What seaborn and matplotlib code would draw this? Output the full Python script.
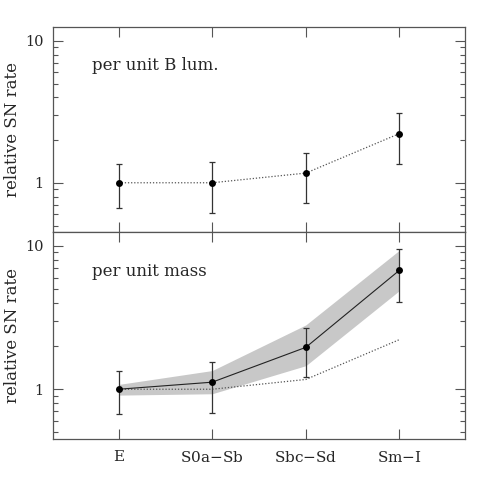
import numpy as np
import pandas as pd
import matplotlib
matplotlib.use("Agg")
import matplotlib.pyplot as plt
import seaborn as sns
from matplotlib.ticker import LogLocator, NullFormatter, FixedLocator

sns.set_theme(style="ticks")
plt.rcParams['font.family'] = ['DejaVu Serif']
plt.rcParams['mathtext.fontset'] = 'dejavuserif'

categories = ["E", "S0a\u2013Sb", "Sbc\u2013Sd", "Sm\u2013I"]
cat_labels = ["E", "S0a$-$Sb", "Sbc$-$Sd", "Sm$-$I"]

# per unit B luminosity
lum_rate = [1.0, 1.0, 1.17, 2.22]
lum_hi = [1.35, 1.39, 1.61, 3.09]
lum_lo = [0.667, 0.61, 0.72, 1.35]

# per unit mass
mass_rate = [1.0, 1.12, 1.96, 6.76]
mass_hi = [1.33, 1.55, 2.69, 9.5]
mass_lo = [0.67, 0.685, 1.21, 4.08]
band_hi = [1.08, 1.35, 2.81, 9.33]
band_lo = [0.91, 0.93, 1.46, 4.88]

xpos = np.arange(len(categories))
df_lum = pd.DataFrame({"x": xpos, "rate": lum_rate})
df_mass = pd.DataFrame({"x": xpos, "rate": mass_rate})

fig = plt.figure(figsize=(4.91, 4.91), dpi=100)
ax1 = fig.add_axes([0.108, 0.5275, 0.839, 0.4175])
ax2 = fig.add_axes([0.108, 0.106, 0.839, 0.4215])

spine_col = "#555555"
err_col = "#333333"
TXT = 12

def style(ax):
    ax.set_yscale("log")
    ax.set_ylim(0.45, 12.5)
    ax.set_xlim(-0.7, 3.7)
    ax.yaxis.set_major_locator(FixedLocator([1, 10]))
    ax.yaxis.set_minor_locator(LogLocator(base=10, subs=np.arange(2, 10)))
    ax.yaxis.set_minor_formatter(NullFormatter())
    ax.set_yticklabels(["1", "10"])
    ax.set_xticks(xpos)
    ax.tick_params(axis="both", which="major", direction="in", length=7,
                   width=0.8, color=spine_col, top=True, right=True,
                   labelsize=10.5)
    ax.tick_params(axis="y", which="major", pad=7)
    ax.tick_params(axis="x", which="major", pad=8, labelsize=11)
    ax.tick_params(axis="y", which="minor", direction="in", length=3.5,
                   width=0.8, color=spine_col, right=True, left=True)
    ax.tick_params(axis="x", which="minor", bottom=False, top=False)
    for s in ax.spines.values():
        s.set_color(spine_col)
        s.set_linewidth(0.9)
    ax.set_ylabel("relative SN rate", fontsize=TXT, labelpad=3)
    ax.set_xlabel("")

# top panel
sns.lineplot(data=df_lum, x="x", y="rate", ax=ax1, color="#555555",
             linestyle=(0, (1, 1.5)), linewidth=0.9)
ax1.errorbar(xpos, lum_rate,
             yerr=[np.array(lum_rate) - np.array(lum_lo),
                   np.array(lum_hi) - np.array(lum_rate)],
             fmt="none", ecolor=err_col, elinewidth=0.9, capsize=2.5,
             capthick=0.9)
sns.scatterplot(data=df_lum, x="x", y="rate", ax=ax1, color="black",
                s=25, edgecolor="black", linewidth=0, zorder=5)
style(ax1)
ax1.set_xticklabels([])
ax1.text(0.095, 0.81, "per unit B lum.", transform=ax1.transAxes,
         fontsize=TXT, va="center", ha="left")

# bottom panel
ax2.fill_between(xpos, band_lo, band_hi, color="#c8c8c8", linewidth=0, zorder=1)
sns.lineplot(data=df_lum, x="x", y="rate", ax=ax2, color="#555555",
             linestyle=(0, (1, 1.5)), linewidth=0.9, zorder=2)
sns.lineplot(data=df_mass, x="x", y="rate", ax=ax2, color="#222222",
             linewidth=0.8, zorder=3)
ax2.errorbar(xpos, mass_rate,
             yerr=[np.array(mass_rate) - np.array(mass_lo),
                   np.array(mass_hi) - np.array(mass_rate)],
             fmt="none", ecolor=err_col, elinewidth=0.9, capsize=2.5,
             capthick=0.9, zorder=4)
sns.scatterplot(data=df_mass, x="x", y="rate", ax=ax2, color="black",
                s=25, edgecolor="black", linewidth=0, zorder=5)
style(ax2)
ax2.set_xticklabels(cat_labels)
ax2.text(0.095, 0.81, "per unit mass", transform=ax2.transAxes,
         fontsize=TXT, va="center", ha="left")

fig.savefig("out.png", dpi=100)
